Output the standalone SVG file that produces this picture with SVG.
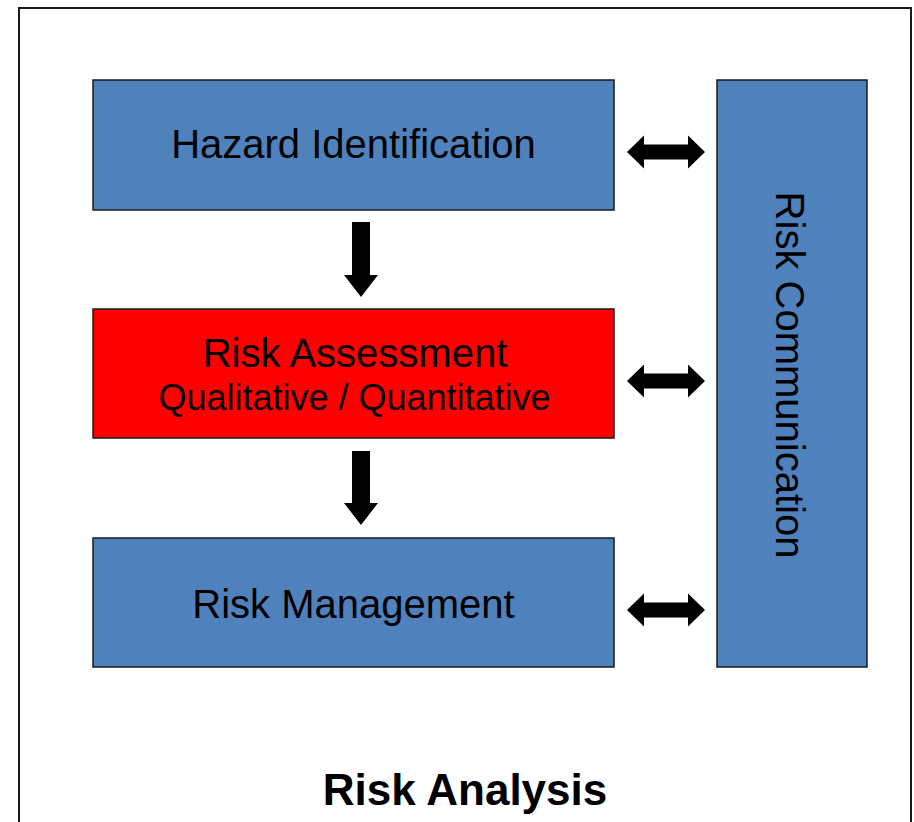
<svg xmlns="http://www.w3.org/2000/svg" width="914" height="822" viewBox="0 0 914 822">
<defs>
<style>
.frame{fill:#fff;stroke:#1a1a1a;stroke-width:2}
.blue{fill:#4F81BD;stroke:#1a1a1a;stroke-width:1.5}
.red{fill:#FF0000;stroke:#1a1a1a;stroke-width:1.5}
.lbl{font-family:"Liberation Sans",Arial,sans-serif;fill:#000;text-anchor:middle}
.arr{fill:#000}
</style>
</defs>
<rect width="914" height="822" fill="#fff"/>
<rect class="frame" x="19" y="8" width="892" height="830"/>
<g id="hazard-identification">
<rect class="blue" x="93" y="80" width="521" height="130"/>
<text class="lbl" x="353.5" y="158" font-size="40">Hazard Identification</text>
</g>
<g id="risk-assessment">
<rect class="red" x="93" y="309" width="521" height="129"/>
<text class="lbl" x="355" y="367" font-size="40">Risk Assessment</text>
<text class="lbl" x="354.5" y="410" font-size="36">Qualitative / Quantitative</text>
</g>
<g id="risk-management">
<rect class="blue" x="93" y="538" width="521" height="129"/>
<text class="lbl" x="353.5" y="618" font-size="40">Risk Management</text>
</g>
<g id="risk-communication">
<rect class="blue" x="717" y="80" width="150" height="587"/>
<text class="lbl" transform="translate(776 375) rotate(90)" font-size="40">Risk Communication</text>
</g>
<g id="connectors">
<polygon class="arr" points="352,222 370,222 370,275 378,275 361,297 344,275 352,275"/>
<polygon class="arr" points="352,451 370,451 370,503 378,503 361,525 344,503 352,503"/>
<polygon class="arr" points="627,152 644,135.5 644,144.5 688,144.5 688,135.5 705,152 688,168.5 688,159.5 644,159.5 644,168.5"/>
<polygon class="arr" points="627,381 644,364.5 644,373.5 688,373.5 688,364.5 705,381 688,397.5 688,388.5 644,388.5 644,397.5"/>
<polygon class="arr" points="627,610 644,593.5 644,602.5 688,602.5 688,593.5 705,610 688,626.5 688,617.5 644,617.5 644,626.5"/>
</g>
<text class="lbl" x="465" y="805" font-size="44" font-weight="bold">Risk Analysis</text>
</svg>
